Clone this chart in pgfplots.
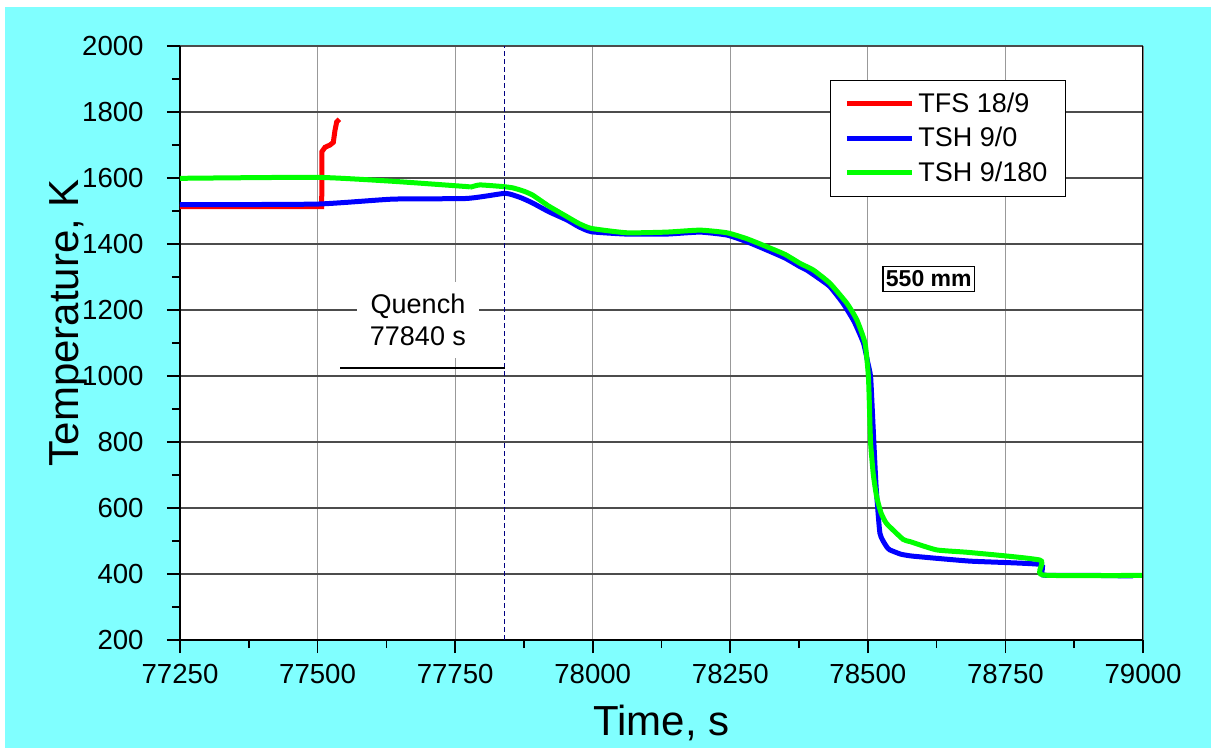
\documentclass[border=0pt]{standalone}
\usepackage{pgfplots}
\pgfplotsset{compat=1.18}
\usepackage{fontspec}
\setmainfont{Liberation Sans}
\usetikzlibrary{backgrounds}
\definecolor{bgcyan}{HTML}{80FFFF}
\definecolor{qnavy}{HTML}{000080}
\newcommand{\tickfont}{\fontsize{13.8bp}{16bp}\selectfont}
\newcommand{\legfont}{\fontsize{13.5bp}{16bp}\selectfont}
\newcommand{\labfont}{\fontsize{21bp}{25bp}\selectfont}

\pgfplotstableread{
t T
77250 1513
77505 1513
77507.5 1513
77508 1680
77513.5 1693
77522.6 1700
77528.6 1708
77531.7 1745
77534.8 1770
77539.5 1778
}\tfs

\pgfplotstableread{
t T
77250 1519
77499 1521
77637 1536
77771 1538
77837 1553
77850 1551
77870 1540
77891 1524
77920 1498
77953 1473
77975 1452
77998 1437
78062 1430
78134 1430
78195 1436
78244 1427
78280 1407
78316 1382
78350 1357
78377 1331
78389 1321
78410 1297
78431 1271
78455 1220
78475 1165
78492 1100
78500 1040
78505 998
78508 900
78511 796
78515 665
78522 523
78534 483
78540 473
78560 460
78577 455
78595 452
78686 439
78813 429
78818 397
78900 396
78982 394
}\tshzero

\pgfplotstableread{
t T
77250 1599
77499 1602
77637 1590
77771 1574
77777 1572
77795 1579
77837 1574
77855 1570
77875 1560
77891 1548
77920 1515
77953 1483
77975 1462
77998 1447
78062 1434
78134 1436
78195 1442
78244 1434
78280 1416
78316 1392
78350 1368
78377 1341
78401 1321
78431 1281
78462 1220
78480 1170
78495 1099
78501 998
78503 900
78505 796
78510 700
78516 634
78524 585
78534 553
78564 505
78577 498
78625 473
78686 465
78813 442
78818 397
79000 396
}\tshonee

\begin{document}
\begin{tikzpicture}
\begin{axis}[
  name=ax,
  scale only axis,
  width=481.5bp, height=297bp,
  xmin=77250, xmax=79000, ymin=200, ymax=2000,
  axis lines=left,
  axis line style={-, line width=1bp, black},
  axis background/.style={fill=white},
  xtick={77250,77500,...,79000},
  ytick={200,400,...,2000},
  minor x tick num=1, minor y tick num=1,
  tick align=outside,
  major tick length=6.5bp, minor tick length=4bp,
  tick style={black, line width=0.8bp},
  grid=major,
  x grid style={color=black!40, line width=0.6bp},
  y grid style={color=black!70, line width=0.6bp},
  scaled x ticks=false, scaled y ticks=false,
  /pgf/number format/.cd, 1000 sep={}, assume math mode=true,
  /pgfplots/.cd,
  tick label style={font=\tickfont},
  yticklabel style={anchor=east, inner sep=0pt, xshift=-11.5bp},
  xticklabel style={anchor=north, inner sep=0pt, yshift=-5.5bp},
  xlabel={Time, s},
  ylabel={Temperature, K},
  label style={font=\labfont},
  xlabel style={at={(axis description cs:0.5,-0.16)}, anchor=base},
  ylabel style={at={(axis description cs:-0.1163,0.534)}, anchor=center},
  legend style={at={(0.920,0.9428)}, anchor=north east, draw=black,
    line width=0.6bp, fill=white, font=\legfont,
    inner xsep=7bp, inner ysep=4bp, row sep=2bp},
  legend cell align=left,
  legend image code/.code={\draw[#1] (0bp,0bp) -- (32.5bp,0bp);},
]
\addplot[red, line width=2.5bp] table[x=t,y=T] {\tfs};
\addlegendentry{TFS 18/9}
\addplot[blue, line width=2.5bp, smooth, tension=0.3] table[x=t,y=T] {\tshzero};
\addlegendentry{TSH 9/0}
\addplot[green, line width=2.5bp, smooth, tension=0.3] table[x=t,y=T] {\tshonee};
\addlegendentry{TSH 9/180}
\addplot[qnavy, line width=0.7bp, dash pattern=on 2.5bp off 1.5bp, forget plot] coordinates {(77840,200) (77840,2000)};
\addplot[black, line width=0.6bp, forget plot] coordinates {(77541,1024) (77840,1024)};
\node[fill=white, align=center, font=\legfont, inner xsep=6.5bp, inner ysep=6bp] at (axis cs:77682.5,1170) {Quench\\77840 s};
\node[fill=white, draw=black, line width=0.6bp, font=\fontsize{11.5bp}{13bp}\selectfont\bfseries, inner xsep=1.5bp, inner ysep=2bp] at (axis cs:78610.7,1294) {550 mm};
\draw[black, line width=1bp] (rel axis cs:1,0) -- (rel axis cs:1,1);
\end{axis}
\begin{pgfonlayer}{background}
\fill[white] ([xshift=-90bp,yshift=-54bp]ax.south west) rectangle ([xshift=34bp,yshift=23bp]ax.north east);
\fill[bgcyan] ([xshift=-87.5bp,yshift=-54bp]ax.south west) rectangle ([xshift=34bp,yshift=19.5bp]ax.north east);
\end{pgfonlayer}
\end{tikzpicture}
\end{document}
